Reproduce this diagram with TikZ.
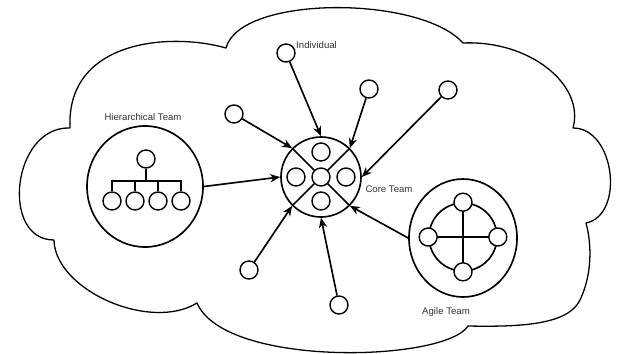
\documentclass[tikz,border=0pt]{standalone}
\usepackage{fontspec}
\setmainfont{Liberation Sans}
\usepackage{tikz}
\usetikzlibrary{arrows.meta,shapes.geometric}
\definecolor{teamInk}{RGB}{51, 51, 51}

\begin{document}
\begin{tikzpicture}[x=0.03cm, y=-0.03cm,
  member/.style={circle, draw, line width=1.2pt, fill=white, inner sep=0pt, minimum size=0.54cm},
  team/.style={ellipse, draw, line width=1.4pt, inner sep=0pt},
  link/.style={line width=1.4pt},
  feed/.style={line width=1.4pt, -{Stealth[length=8.5pt, width=7pt, inset=2.6pt]}},
  tag/.style={text=teamInk, font=\fontsize{8.2}{10}\selectfont, inner sep=0pt}]
\useasboundingbox (0,0) rectangle (617,353);

% Cloud outline
\draw[line width=1.1pt, line join=round]
  (70,128) .. controls (66,40) and (170,32) .. (226,48)
  .. controls (240,-5) and (420,-5) .. (463,43)
  .. controls (530,40) and (585,85) .. (573,128)
  .. controls (615,128) and (625,215) .. (586,223)
  .. controls (592,245) and (592,275) .. (580,300)
  .. controls (568,325) and (520,327) .. (468,326)
  .. controls (445,362) and (225,368) .. (197,303)
  .. controls (150,332) and (55,290) .. (54,240)
  .. controls (0,240) and (12,126) .. cycle;

% Core team
\node[circle, draw, line width=1.4pt, inner sep=0pt, minimum size=2.4cm] (core) at (321,177) {};
\draw[link] (core.north west) -- (core.south east);
\draw[link] (core.north east) -- (core.south west);
\node[member] (c0) at (321,177) {};
\node[member] (c1) at (321,152) {};
\node[member] (c2) at (321,201) {};
\node[member] (c3) at (296,177) {};
\node[member] (c4) at (346,177) {};
\node[tag] (coreLabel) at (389,189) {Core Team};

% Hierarchical team
\node[team, minimum width=3.48cm, minimum height=3.63cm] (hier) at (145,186.5) {};
\node[member] (boss) at (146,159) {};
\node[member] (m1) at (112,201) {};
\node[member] (m2) at (135,201) {};
\node[member] (m3) at (158,201) {};
\node[member] (m4) at (181,201) {};
\coordinate (bar) at (146,182);
\draw[link] (boss) -- (bar);
\draw[link] (m1.north) -- ++(0,-10) -| (m4.north);
\draw[link] (m2.north) -- (m2.north |- bar);
\draw[link] (m3.north) -- (m3.north |- bar);
\node[tag] (hierLabel) at (143,117) {Hierarchical Team};

% Agile team
\node[team, minimum width=3.24cm, minimum height=3.54cm] (agile) at (463,238) {};
\node[circle, draw, line width=1.4pt, inner sep=0pt, minimum size=2.04cm] (ring) at (463,237) {};
\draw[link] (ring.west) -- (ring.east);
\draw[link] (ring.north) -- (ring.south);
\node[member] (a1) at (ring.north) {};
\node[member] (a2) at (ring.east) {};
\node[member] (a3) at (ring.south) {};
\node[member] (a4) at (ring.west) {};
\node[tag] (agileLabel) at (446,312) {Agile Team};

% Individuals
\node[member] (solo1) at (286,53) {};
\node[member] (solo2) at (234,114) {};
\node[member] (solo3) at (369,89) {};
\node[member] (solo4) at (448,90) {};
\node[member] (solo5) at (249,270) {};
\node[member] (solo6) at (339,305) {};
\node[tag, anchor=west] (soloLabel) at (296,45) {Individual};

% Arrows into the core
\draw[feed] (solo1) -- (core.north);
\draw[feed] (solo2) -- (core.north west);
\draw[feed] (solo3) -- (core.north east);
\draw[feed] (solo4) -- (core.east);
\draw[feed] (solo5) -- (core.south west);
\draw[feed] (solo6) -- (core.south);
\draw[feed] (hier.east) -- (core.west);
\draw[feed] (agile.west) -- (core.south east);
\end{tikzpicture}
\end{document}
